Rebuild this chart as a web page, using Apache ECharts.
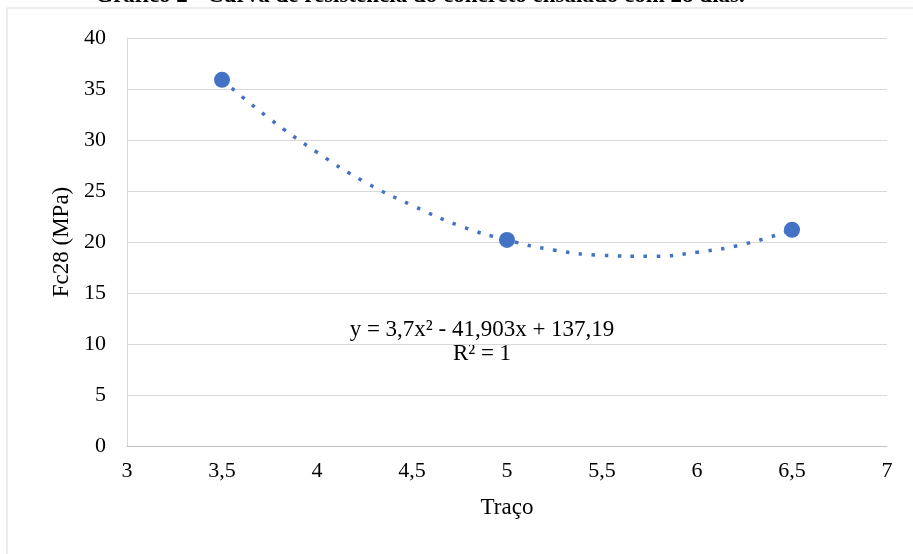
<!DOCTYPE html>
<html>
<head>
<meta charset="utf-8">
<script src="https://cdn.jsdelivr.net/npm/echarts@6/dist/echarts.min.js"></script>
<style>
  html, body { margin: 0; padding: 0; background: #fff; }
  #main { width: 913px; height: 554px; }
</style>
</head>
<body>
<div id="main"></div>
<script>
// ensaios: traço x Fc28
var traco = [3.5, 5, 6.5];
var fc28 = [35.9, 20.2, 21.2];

// linha de tendência
var trendX = [3.5, 3.75, 4, 4.25, 4.5, 4.75, 5, 5.25, 5.5, 5.75, 6, 6.25, 6.5];
var trendY = [35.9, 32.1, 28.8, 25.9, 23.6, 21.6, 20.2, 19.2, 18.7, 18.6, 19.0, 19.8, 21.2];

var xTicks = ['3', '3,5', '4', '4,5', '5', '5,5', '6', '6,5', '7'];

var serif = '"Liberation Serif", "Times New Roman", serif';
var azul = '#4472C4';

var myChart = echarts.init(document.getElementById('main'));
myChart.setOption({
    animation: false,
    backgroundColor: '#fff',
    grid: {
        left: 127,
        right: 26,
        top: 38,
        bottom: 108,
        containLabel: false
    },
    xAxis: {
        type: 'value',
        min: 3,
        max: 7,
        interval: 0.5,
        name: 'Traço',
        nameLocation: 'middle',
        nameGap: 50,
        nameTextStyle: { fontFamily: serif, fontSize: 23, color: '#000' },
        axisLine: { show: true, lineStyle: { color: '#BFBFBF', width: 1 } },
        axisTick: { show: false },
        splitLine: { show: false },
        axisLabel: {
            margin: 14,
            fontFamily: serif,
            fontSize: 22,
            color: '#000',
            formatter: function (v) {
                var i = Math.round((v - 3) / 0.5);
                return xTicks[i] !== undefined ? xTicks[i] : '';
            }
        }
    },
    yAxis: {
        type: 'value',
        min: 0,
        max: 40,
        interval: 5,
        name: 'Fc28 (MPa)',
        nameLocation: 'middle',
        nameGap: 51,
        nameTextStyle: { fontFamily: serif, fontSize: 23, color: '#000' },
        axisLine: { show: true, lineStyle: { color: '#D9D9D9', width: 1 } },
        axisTick: { show: false },
        splitLine: { show: true, lineStyle: { color: '#D9D9D9', width: 1 } },
        axisLabel: {
            margin: 21,
            fontFamily: serif,
            fontSize: 22,
            color: '#000'
        }
    },
    graphic: [
        {
            type: 'rect',
            shape: { x: 7, y: 8, width: 940, height: 600 },
            style: { fill: 'none', stroke: '#D9D9D9', lineWidth: 1 },
            silent: true
        },
        {
            type: 'text',
            x: 420,
            y: 8,
            style: {
                text: 'Gráfico 2 - Curva de resistência do concreto ensaiado com 28 dias.',
                font: 'bold 23px ' + serif,
                fill: '#000',
                textAlign: 'center',
                textVerticalAlign: 'bottom'
            }
        },
        {
            type: 'text',
            x: 482,
            y: 342,
            style: {
                text: 'y = 3,7x² - 41,903x + 137,19\nR² = 1',
                font: '23px ' + serif,
                fill: '#000',
                textAlign: 'center',
                textVerticalAlign: 'middle',
                lineHeight: 24
            }
        }
    ],
    series: [
        {
            name: 'Tendência',
            type: 'line',
            smooth: true,
            showSymbol: false,
            symbol: 'none',
            data: trendX.map(function (x, i) { return [x, trendY[i]]; }),
            lineStyle: { color: azul, width: 3.5, type: [3.5, 9.5], cap: 'butt' },
            z: 2
        },
        {
            name: 'Fc28',
            type: 'scatter',
            symbol: 'circle',
            symbolSize: 16,
            data: traco.map(function (x, i) { return [x, fc28[i]]; }),
            itemStyle: { color: azul, opacity: 1 },
            z: 3
        }
    ]
});
</script>
</body>
</html>
